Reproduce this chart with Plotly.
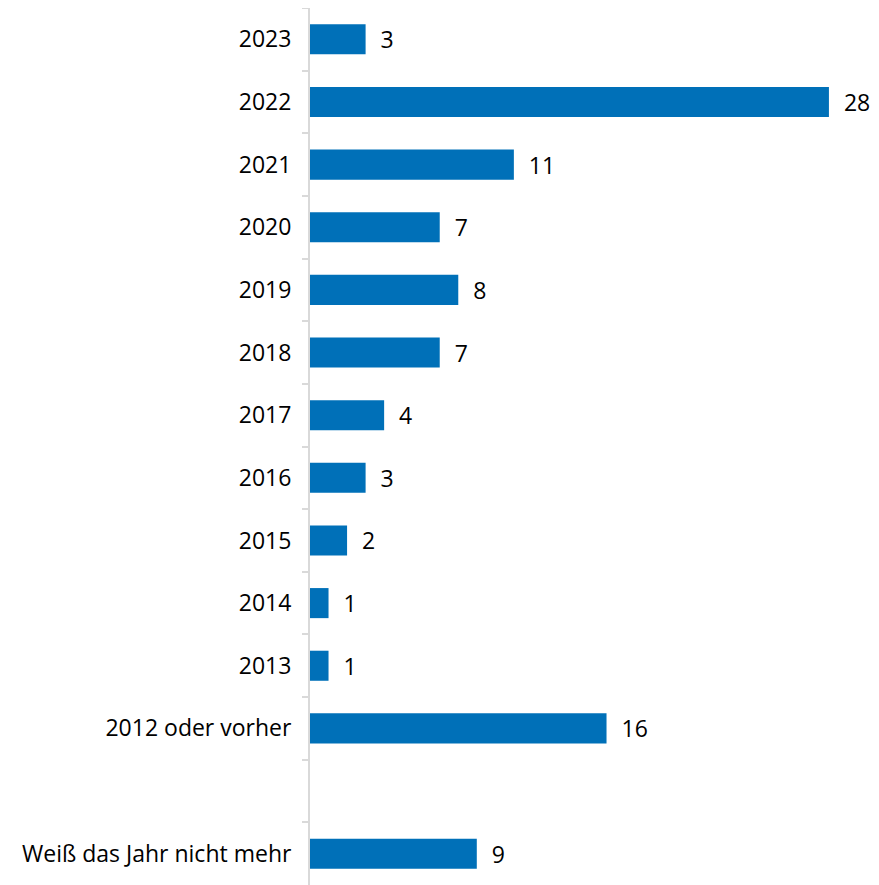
import plotly.graph_objects as go

categories = ["2023", "2022", "2021", "2020", "2019", "2018", "2017", "2016",
              "2015", "2014", "2013", "2012 oder vorher", " ", "Weiß das Jahr nicht mehr"]
values = [3, 28, 11, 7, 8, 7, 4, 3, 2, 1, 1, 16, None, 9]

bar_color = "#0070B8"
font_family = "Open Sans, Liberation Sans, sans-serif"

fig = go.Figure(go.Bar(
    y=categories,
    x=values,
    orientation="h",
    marker=dict(color=bar_color, line=dict(width=0)),
    width=0.48,
    text=[("" if v is None else str(v)) for v in values],
    texttemplate="\u00a0\u00a0%{text}",
    textposition="outside",
    constraintext="none",
    cliponaxis=False,
    textfont=dict(family=font_family, size=23, color="#000000"),
))

fig.update_layout(
    width=871, height=877,
    margin=dict(l=302, r=13, t=0, b=0),
    plot_bgcolor="white", paper_bgcolor="white",
    showlegend=False,
    font=dict(family=font_family, size=23, color="#000000"),
    xaxis=dict(range=[0, 30], visible=False, showgrid=False, zeroline=False),
    yaxis=dict(
        type="category",
        categoryorder="array",
        categoryarray=categories,
        autorange="reversed",
        showline=True, linecolor="#D9D9D9", linewidth=2,
        ticks="outside", tickson="boundaries", ticklen=6, tickcolor="#D9D9D9", tickwidth=1.5,
        showgrid=False, zeroline=False,
        ticklabelstandoff=12,
        tickfont=dict(family=font_family, size=23, color="#000000"),
    ),
)

fig.write_html("out.html")
